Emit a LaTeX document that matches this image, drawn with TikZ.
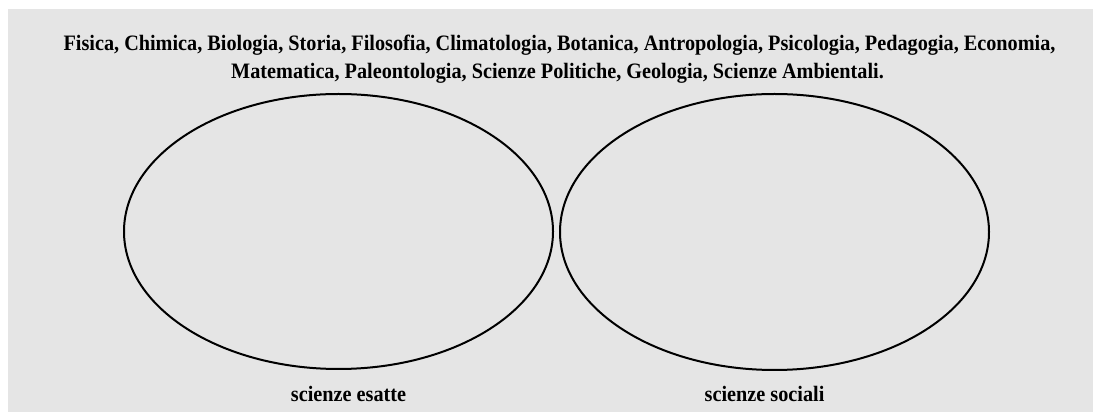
\documentclass[tikz,border=0pt]{standalone}
\usepackage{fontspec}
\newfontfamily\labelfont[FakeStretch=0.92]{Liberation Serif}
\definecolor{bggray}{RGB}{229,229,229}
\tikzset{
  setline/.style={draw=black, line width=2pt},
  title/.style={font=\labelfont\bfseries\fontsize{22}{26}\selectfont, anchor=base, inner sep=0pt},
  setlabel/.style={font=\labelfont\bfseries\fontsize{22}{26}\selectfont, anchor=base, inner sep=0pt}
}
\begin{document}
\begin{tikzpicture}[x=1pt,y=1pt]
\useasboundingbox (0,0) rectangle (1093,412);
\fill[white] (0,0) rectangle (1093,412);
\fill[bggray] (8,0) rectangle (1093,403);
\node[title] (line1) at (559.5,361) {Fisica, Chimica, Biologia, Storia, Filosofia, Climatologia, Botanica, Antropologia, Psicologia, Pedagogia, Economia,};
\node[title] (line2) at (557.5,333) {Matematica, Paleontologia, Scienze Politiche, Geologia, Scienze Ambientali.};
\draw[setline] (338.5,180.5) ellipse [x radius=214.5, y radius=137.5];
\draw[setline] (774.5,180) ellipse [x radius=214.5, y radius=138];
\node[setlabel] (esatte) at (348.5,10) {scienze esatte};
\node[setlabel] (sociali) at (764.5,10) {scienze sociali};
\end{tikzpicture}
\end{document}
